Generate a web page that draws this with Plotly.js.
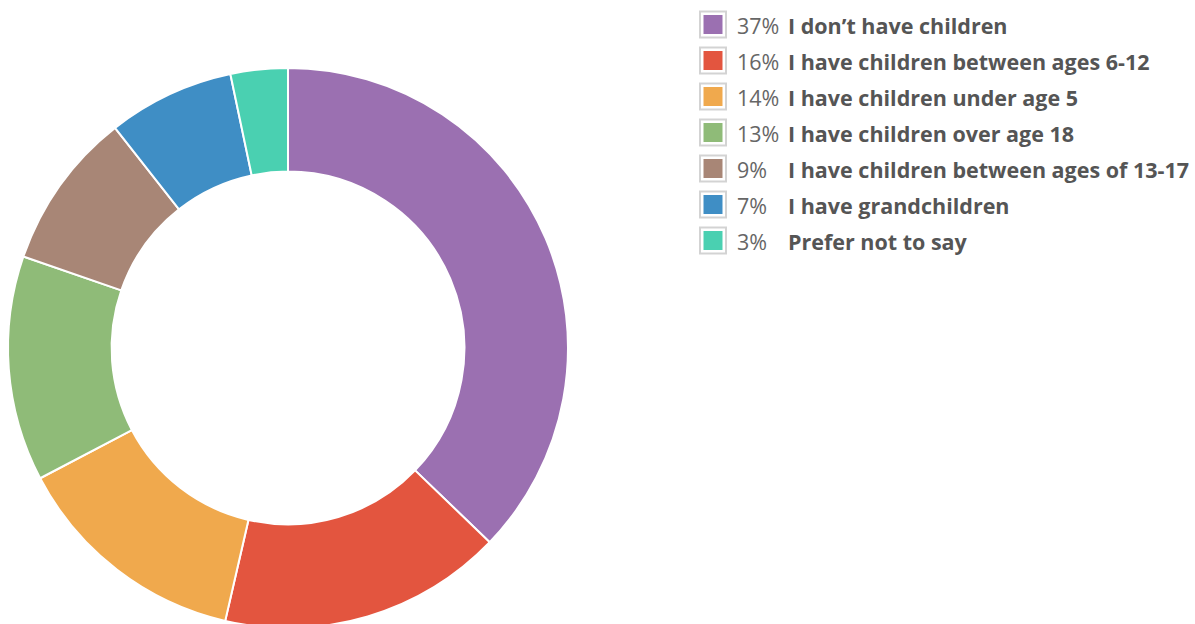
<!DOCTYPE html>
<html>
<head>
<meta charset="utf-8">
<script src="https://cdn.plot.ly/plotly-3.0.1.min.js"></script>
<style>
  html, body { margin: 0; padding: 0; background: #fff; overflow: hidden; }
  #wrap { width: 1195px; height: 624px; overflow: hidden; }
</style>
</head>
<body>
<div id="wrap"><div id="chart"></div></div>
<script>
// ---- data ----
const categories = [
  "I don\u2019t have children",
  "I have children between ages 6-12",
  "I have children under age 5",
  "I have children over age 18",
  "I have children between ages of 13-17",
  "I have grandchildren",
  "Prefer not to say"
];
// slice sizes as read from the drawn donut (legend shows rounded percentages)
const shares = [37.2, 16.4, 13.7, 13.0, 9.1, 7.3, 3.3];
const pctLabels = ["37%", "16%", "14%", "13%", "9%", "7%", "3%"];
const colors = ["#9b70b1", "#e3553f", "#f0a94d", "#8fbb78", "#a88676", "#3f8ec5", "#4ad0b1"];

// ---- figure geometry ----
const W = 1195, H = 640;
const px = v => v / W;
const py = v => 1 - v / H;

const trace = {
  type: "pie",
  labels: categories,
  values: shares,
  marker: { colors: colors, line: { color: "#ffffff", width: 2 } },
  hole: 0.63,
  sort: false,
  direction: "clockwise",
  rotation: 0,
  textinfo: "none",
  hoverinfo: "label+percent",
  showlegend: false,
  domain: { x: [px(8), px(568)], y: [py(628), py(68)] }
};

// custom legend built from the arrays
const shapes = [];
const annotations = [];
const rowY0 = 24.5, rowStep = 36;
categories.forEach((cat, i) => {
  const cy = rowY0 + i * rowStep;
  shapes.push({
    type: "rect", xref: "paper", yref: "paper",
    x0: px(700), x1: px(726), y0: py(cy + 13), y1: py(cy - 13),
    fillcolor: "#ffffff", line: { color: "#d3d3d3", width: 2 }
  });
  shapes.push({
    type: "rect", xref: "paper", yref: "paper",
    x0: px(703.5), x1: px(722.5), y0: py(cy + 9.5), y1: py(cy - 9.5),
    fillcolor: colors[i], line: { width: 0 }
  });
  annotations.push({
    xref: "paper", yref: "paper", x: px(735), y: py(cy + 1),
    xanchor: "left", yanchor: "middle", showarrow: false,
    text: pctLabels[i],
    font: { family: "Open Sans", size: 21.5, color: "#666666" }
  });
  annotations.push({
    xref: "paper", yref: "paper", x: px(786), y: py(cy + 1),
    xanchor: "left", yanchor: "middle", showarrow: false,
    text: "<b>" + cat + "</b>",
    font: { family: "Open Sans", size: 21.5, color: "#555555" }
  });
});

const layout = {
  width: W, height: H,
  margin: { l: 0, r: 0, t: 0, b: 0 },
  paper_bgcolor: "#ffffff",
  showlegend: false,
  shapes: shapes,
  annotations: annotations
};

Plotly.newPlot("chart", [trace], layout, { displayModeBar: false, staticPlot: true });
</script>
</body>
</html>
